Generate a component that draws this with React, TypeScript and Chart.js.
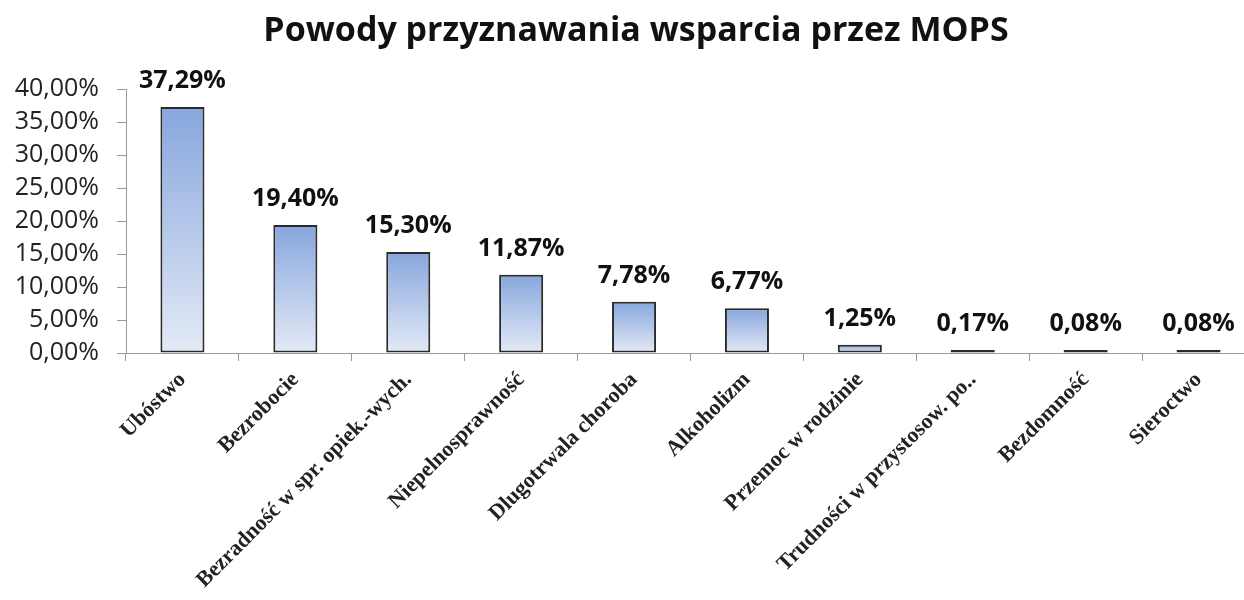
import React, { useEffect, useRef } from "react";
import { Chart, registerables } from "chart.js";

Chart.register(...registerables);

const titleText = "Powody przyznawania wsparcia przez MOPS";
const categories = [
  "Ubóstwo",
  "Bezrobocie",
  "Bezradność w spr. opiek.-wych.",
  "Niepelnosprawność",
  "Dlugotrwala choroba",
  "Alkoholizm",
  "Przemoc w rodzinie",
  "Trudności w przystosow. po..",
  "Bezdomność",
  "Sieroctwo",
];
const values = [37.29, 19.4, 15.3, 11.87, 7.78, 6.77, 1.25, 0.17, 0.08, 0.08];
const yMin = 0;
const yMax = 40;
const yStep = 5;

const fmt = (v: number) => v.toFixed(2).replace(".", ",") + "%";

const titlePlugin = {
  id: "customTitle",
  afterDraw(chart: any) {
    const ctx = chart.ctx;
    ctx.save();
    ctx.font = "bold 34px 'Open Sans'";
    ctx.fillStyle = "#111";
    ctx.textAlign = "center";
    ctx.textBaseline = "alphabetic";
    ctx.fillText(titleText, 636, 41);
    ctx.restore();
  },
};

const labelPlugin = {
  id: "valueLabels",
  afterDatasetsDraw(chart: any) {
    const ctx = chart.ctx;
    const meta = chart.getDatasetMeta(0);
    ctx.save();
    ctx.font = "bold 25px 'Open Sans'";
    ctx.fillStyle = "#111";
    ctx.textAlign = "center";
    ctx.textBaseline = "alphabetic";
    meta.data.forEach((el: any, i: number) => {
      ctx.fillText(fmt(values[i]), el.x, el.y - 19);
    });
    ctx.restore();
  },
};

export default function App() {
  const ref = useRef<HTMLCanvasElement | null>(null);
  useEffect(() => {
    if (!ref.current) return;
    const chart = new Chart(ref.current, {
      type: "bar",
      data: {
        labels: categories,
        datasets: [
          {
            data: values,
            backgroundColor: (c: any) => {
              const ch = c.chart;
              if (!ch.chartArea || !ch.scales || !ch.scales.y) return "#b4c7e7";
              const v = c.parsed ? c.parsed.y : c.raw;
              const ys = ch.scales.y;
              const top = ys.getPixelForValue(v);
              const bottom = ys.getPixelForValue(0);
              if (!isFinite(top) || bottom - top < 4) return "#777";
              const g = ch.ctx.createLinearGradient(0, top, 0, bottom);
              g.addColorStop(0, "#87a6dd");
              g.addColorStop(1, "#e4eaf6");
              return g;
            },
            borderColor: "#2a2a2a",
            borderWidth: 2,
            borderSkipped: false,
            minBarLength: 3,
            barPercentage: 0.39,
            categoryPercentage: 1,
          },
        ],
      },
      options: {
        responsive: false,
        animation: false,
        layout: { padding: { top: 89, left: 0, right: 5, bottom: 0 } },
        plugins: {
          legend: { display: false },
          title: { display: false },
          tooltip: { enabled: false },
        },
        scales: {
          x: {
            grid: {
              offset: true,
              drawOnChartArea: false,
              drawTicks: true,
              tickLength: 8,
              color: "#999",
            },
            border: { color: "#999", width: 1 },
            ticks: {
              autoSkip: false,
              minRotation: 45,
              maxRotation: 45,
              color: "#222",
              font: { family: "'Liberation Serif'", weight: "bold", size: 22 },
              padding: 6,
            },
            afterFit: (s: any) => {
              s.height = 247;
            },
          },
          y: {
            min: yMin,
            max: yMax,
            ticks: {
              stepSize: yStep,
              color: "#222",
              font: { family: "'Open Sans'", size: 25 },
              padding: 18,
              callback: (v: any) => fmt(Number(v)),
            },
            grid: {
              drawOnChartArea: false,
              drawTicks: true,
              tickLength: 9,
              color: "#999",
            },
            border: { color: "#999", width: 1 },
            afterFit: (s: any) => {
              s.width = 126;
            },
          },
        },
      },
      plugins: [titlePlugin, labelPlugin],
    } as any);
    return () => chart.destroy();
  }, []);
  return (
    <div
      style={{
        position: "fixed",
        left: 0,
        top: 0,
        width: 1244,
        height: 600,
        overflow: "hidden",
        background: "#fff",
      }}
    >
      <canvas ref={ref} width={1260} height={600} style={{ display: "block" }} />
    </div>
  );
}
